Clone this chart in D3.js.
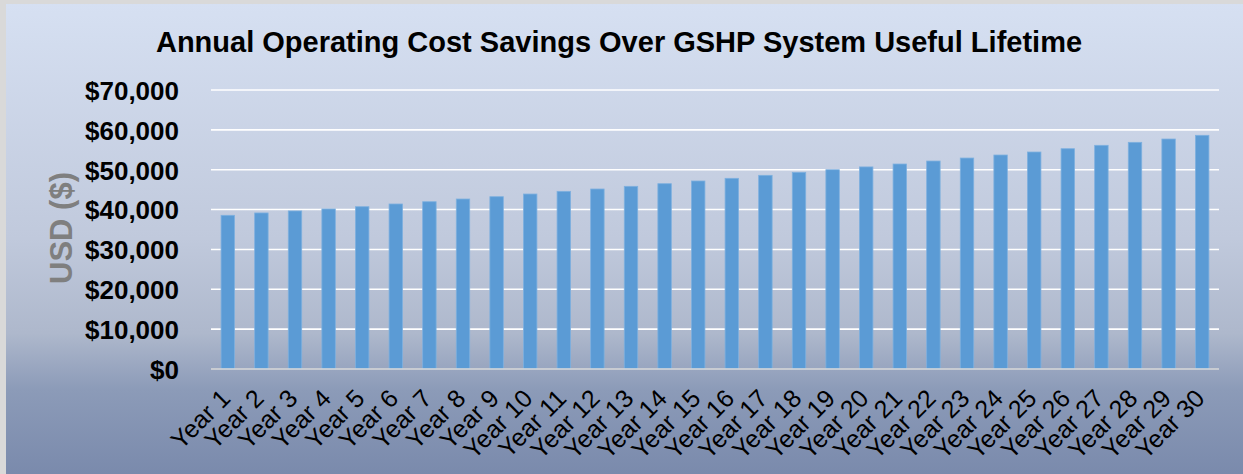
<!DOCTYPE html>
<html>
<head>
<meta charset="utf-8">
<script src="https://cdn.jsdelivr.net/npm/d3@7"></script>
<style>
  html, body { margin: 0; padding: 0; background: #ffffff; }
  svg { display: block; }
</style>
</head>
<body>
<svg id="chart" width="1243" height="474"></svg>
<script>
const titleText = "Annual Operating Cost Savings Over GSHP System Useful Lifetime";
const yAxisTitle = "USD ($)";
const categories = ["Year 1","Year 2","Year 3","Year 4","Year 5","Year 6","Year 7","Year 8","Year 9","Year 10",
  "Year 11","Year 12","Year 13","Year 14","Year 15","Year 16","Year 17","Year 18","Year 19","Year 20",
  "Year 21","Year 22","Year 23","Year 24","Year 25","Year 26","Year 27","Year 28","Year 29","Year 30"];
const savings = [38560, 39150, 39650, 40150, 40720, 41400, 41970, 42650, 43230, 43900,
  44570, 45160, 45830, 46490, 47170, 47840, 48590, 49340, 50000, 50700,
  51430, 52180, 52930, 53690, 54440, 55270, 56120, 56870, 57700, 58630];
const yTicks = [0, 10000, 20000, 30000, 40000, 50000, 60000, 70000];

const W = 1243, H = 474;
const svg = d3.select("#chart");
const defs = svg.append("defs");
const grad = defs.append("linearGradient").attr("id", "bg").attr("x1", 0).attr("y1", 0).attr("x2", 0).attr("y2", 1);
grad.append("stop").attr("offset", "0%").attr("stop-color", "#d6e0f2");
grad.append("stop").attr("offset", "50%").attr("stop-color", "#c0c9dc");
grad.append("stop").attr("offset", "70%").attr("stop-color", "#aeb8cc");
grad.append("stop").attr("offset", "82%").attr("stop-color", "#8c9bb8");
grad.append("stop").attr("offset", "100%").attr("stop-color", "#7a8aac");

svg.append("rect").attr("x", 0).attr("y", 0).attr("width", W).attr("height", H).attr("fill", "#d9d9d9");
svg.append("rect").attr("x", 6).attr("y", 4).attr("width", W - 6).attr("height", H - 4).attr("fill", "url(#bg)");

const x = d3.scaleBand().domain(categories).range([211, 1219]).paddingInner(0.6).paddingOuter(0.3);
const y = d3.scaleLinear().domain([0, 70000]).range([369, 90]);

// gridlines
svg.append("g").selectAll("line").data(yTicks.filter(d => d > 0)).join("line")
  .attr("x1", 211).attr("x2", 1219)
  .attr("y1", d => y(d)).attr("y2", d => y(d))
  .attr("stroke", "#ffffff").attr("stroke-width", 1.6);

// bars
svg.append("g").selectAll("rect").data(savings).join("rect")
  .attr("x", (d, i) => x(categories[i]))
  .attr("width", x.bandwidth())
  .attr("y", d => y(d))
  .attr("height", d => y(0) - y(d))
  .attr("fill", "#5b9bd5")
  .attr("stroke", "#7eb0df").attr("stroke-width", 0.8);

// x axis line
svg.append("line").attr("x1", 211).attr("x2", 1219).attr("y1", y(0)).attr("y2", y(0))
  .attr("stroke", "#d9d9d9").attr("stroke-width", 1.6);

// y tick labels
const yAxis = d3.axisLeft(y).tickValues(yTicks).tickSize(0).tickPadding(0)
  .tickFormat(d => "$" + d3.format(",")(d));
const gy = svg.append("g").attr("transform", "translate(179,0)").call(yAxis);
gy.select(".domain").remove();
gy.selectAll("text")
  .attr("font-family", "'Liberation Sans', Arial, sans-serif")
  .attr("font-weight", "bold").attr("font-size", 26).attr("fill", "#000000")
  .attr("dy", "0.36em");

// x tick labels
const xAxis = d3.axisBottom(x).tickSize(0).tickPadding(0);
const gx = svg.append("g").attr("transform", `translate(0,${y(0)})`).call(xAxis);
gx.select(".domain").remove();
gx.selectAll("text")
  .attr("font-family", "'Liberation Sans', Arial, sans-serif")
  .attr("font-size", 25).attr("fill", "#000000")
  .attr("text-anchor", "end")
  .attr("dy", null).attr("y", null)
  .attr("transform", "translate(4,31) rotate(-45)");

// title
svg.append("text").attr("x", 619).attr("y", 52).attr("text-anchor", "middle")
  .attr("font-family", "'Liberation Sans', Arial, sans-serif")
  .attr("font-weight", "bold").attr("font-size", 29).attr("fill", "#000000")
  .text(titleText);

// y axis title
svg.append("text").attr("transform", "translate(72,228) rotate(-90)")
  .attr("text-anchor", "middle")
  .attr("font-family", "'Liberation Sans', Arial, sans-serif")
  .attr("font-weight", "bold").attr("font-size", 31).attr("fill", "#7f7f7f")
  .text(yAxisTitle);
</script>
</body>
</html>
